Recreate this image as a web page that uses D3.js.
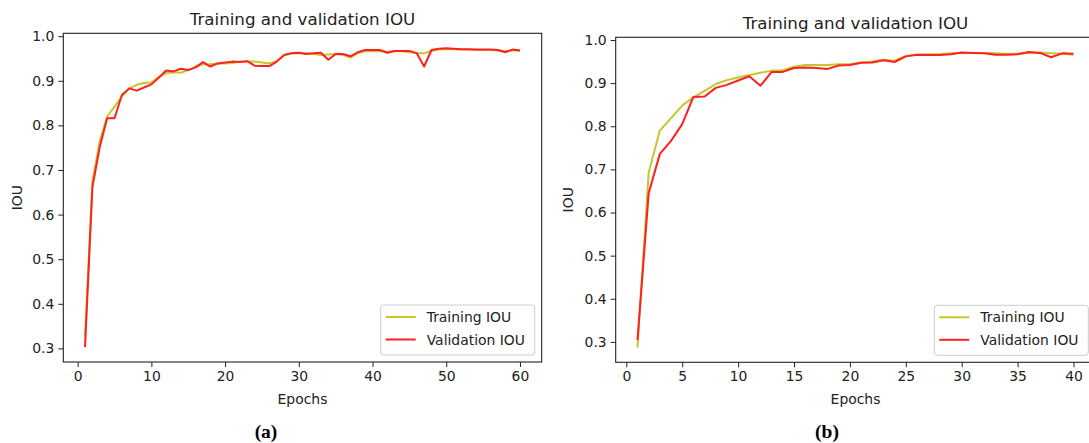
<!DOCTYPE html>
<html>
<head>
<meta charset="utf-8">
<script src="https://cdn.jsdelivr.net/npm/d3@7"></script>
<style>
  body { margin: 0; background: #fff; }
  text { font-family: "DejaVu Sans", sans-serif; fill: #222; }
  .caption { font-family: "Liberation Serif", serif; font-weight: bold; fill: #000; }
</style>
</head>
<body>
<div id="chart"></div>
<script>
// Data (epoch = index + 1)
var trainA = [0.326, 0.675, 0.765, 0.820, 0.842, 0.865, 0.883, 0.891, 0.895, 0.896,
  0.909, 0.917, 0.919, 0.918, 0.924, 0.932, 0.937, 0.937, 0.939, 0.939,
  0.940, 0.943, 0.943, 0.943, 0.941, 0.939, 0.944, 0.957, 0.961, 0.962,
  0.962, 0.960, 0.958, 0.959, 0.960, 0.958, 0.952, 0.962, 0.966, 0.967,
  0.966, 0.965, 0.966, 0.966, 0.964, 0.962, 0.962, 0.967, 0.970, 0.971,
  0.971, 0.970, 0.970, 0.969, 0.969, 0.969, 0.968, 0.967, 0.968, 0.968];
var valA = [0.303, 0.662, 0.752, 0.816, 0.816, 0.868, 0.883, 0.878, 0.885, 0.892,
  0.907, 0.923, 0.921, 0.927, 0.924, 0.930, 0.942, 0.932, 0.939, 0.941,
  0.943, 0.942, 0.944, 0.934, 0.933, 0.933, 0.943, 0.958, 0.962, 0.963,
  0.960, 0.962, 0.963, 0.947, 0.960, 0.960, 0.955, 0.964, 0.969, 0.969,
  0.969, 0.963, 0.967, 0.967, 0.967, 0.962, 0.932, 0.969, 0.972, 0.973,
  0.972, 0.971, 0.971, 0.970, 0.970, 0.970, 0.969, 0.964, 0.970, 0.968];
var trainB = [0.287, 0.693, 0.790, 0.819, 0.848, 0.867, 0.882, 0.898, 0.907, 0.913,
  0.919, 0.924, 0.929, 0.930, 0.938, 0.942, 0.942, 0.942, 0.944, 0.944,
  0.948, 0.950, 0.954, 0.952, 0.963, 0.966, 0.967, 0.967, 0.969, 0.970,
  0.970, 0.970, 0.969, 0.968, 0.968, 0.970, 0.971, 0.969, 0.968, 0.966];
var valB = [0.304, 0.645, 0.736, 0.766, 0.805, 0.868, 0.869, 0.889, 0.896, 0.906,
  0.916, 0.894, 0.926, 0.926, 0.935, 0.936, 0.935, 0.933, 0.941, 0.942,
  0.947, 0.948, 0.953, 0.949, 0.962, 0.966, 0.965, 0.965, 0.967, 0.971,
  0.970, 0.969, 0.966, 0.966, 0.967, 0.972, 0.970, 0.960, 0.969, 0.968];

var xTicksA = [0, 10, 20, 30, 40, 50, 60];
var xTicksB = [0, 5, 10, 15, 20, 25, 30, 35, 40];
var yTicks = [0.3, 0.4, 0.5, 0.6, 0.7, 0.8, 0.9, 1.0];
var seriesNames = ["Training IOU", "Validation IOU"];
var seriesColors = ["#c6c62a", "#ff2020"];

var svgWidth = 1089;
var svgHeight = 443;

var svg = d3.select("#chart")
  .append("svg")
  .attr("width", svgWidth)
  .attr("height", svgHeight);

// one matplotlib-like panel
function drawPanel(opt) {
  var train = opt.train, val = opt.val;
  var n = train.length;
  var all = train.concat(val);
  var yMin = d3.min(all), yMax = d3.max(all);
  var yPad = (yMax - yMin) * 0.05;
  var xPad = (n - 1) * 0.05;

  var x = d3.scaleLinear().domain([1 - xPad, n + xPad]).range([0, opt.width]);
  var y = d3.scaleLinear().domain([yMin - yPad, yMax + yPad]).range([opt.height, 0]);

  var g = svg.append("g")
    .attr("transform", `translate(${opt.left}, ${opt.top})`);

  // axes
  var bottomAxis = d3.axisBottom(x).tickValues(opt.xTicks).tickSize(5).tickPadding(4)
    .tickFormat(d3.format("d"));
  var leftAxis = d3.axisLeft(y).tickValues(yTicks).tickSize(5).tickPadding(4)
    .tickFormat(d3.format(".1f"));

  var xa = g.append("g")
    .attr("transform", `translate(0, ${opt.height})`)
    .call(bottomAxis);
  var ya = g.append("g").call(leftAxis);

  [xa, ya].forEach(function(a) {
    a.select(".domain").remove();
    a.selectAll("line").attr("stroke", "#222").attr("stroke-width", 1);
    a.selectAll("text").style("font-size", "13.9px").attr("fill", "#222");
  });

  // lines
  var line = d3.line()
    .x((d, i) => x(i + 1))
    .y(d => y(d));

  [train, val].forEach(function(s, k) {
    g.append("path")
      .datum(s)
      .attr("fill", "none")
      .attr("stroke", seriesColors[k])
      .attr("stroke-width", 2)
      .attr("stroke-linejoin", "round")
      .attr("d", line);
  });

  // frame
  g.append("rect")
    .attr("x", 0).attr("y", 0)
    .attr("width", opt.width).attr("height", opt.height)
    .attr("fill", "none")
    .attr("stroke", "#222")
    .attr("stroke-width", 1.1);

  // title
  g.append("text")
    .attr("x", opt.width / 2)
    .attr("y", -8.5)
    .attr("text-anchor", "middle")
    .style("font-size", "16.7px")
    .text("Training and validation IOU");

  // axis labels
  g.append("text")
    .attr("x", opt.width / 2)
    .attr("y", opt.height + 42)
    .attr("text-anchor", "middle")
    .style("font-size", "13.9px")
    .text("Epochs");

  g.append("text")
    .attr("transform", "rotate(-90)")
    .attr("x", -opt.height / 2)
    .attr("y", opt.yLabelX - opt.left)
    .attr("text-anchor", "middle")
    .style("font-size", "13.9px")
    .text("IOU");

  // legend, lower right
  var lw = 154, lh = 50;
  var legend = g.append("g")
    .attr("transform", `translate(${opt.width - 7 - lw}, ${opt.height - 7 - lh})`);
  legend.append("rect")
    .attr("width", lw).attr("height", lh)
    .attr("rx", 3)
    .attr("fill", "white").attr("fill-opacity", 0.8)
    .attr("stroke", "#cccccc");
  seriesNames.forEach(function(name, k) {
    var ly = 12 + k * 22.5;
    legend.append("line")
      .attr("x1", 5).attr("x2", 35)
      .attr("y1", ly).attr("y2", ly)
      .attr("stroke", seriesColors[k])
      .attr("stroke-width", 2);
    legend.append("text")
      .attr("x", 46).attr("y", ly + 5)
      .style("font-size", "13.9px")
      .text(name);
  });

  // caption
  svg.append("text")
    .attr("class", "caption")
    .attr("x", opt.captionX)
    .attr("y", 438)
    .attr("text-anchor", "middle")
    .style("font-size", "19.5px")
    .text(opt.caption);
}

drawPanel({ train: trainA, val: valA, xTicks: xTicksA, left: 63.3, top: 33.3,
  width: 478.4, height: 328.7, yLabelX: 22, caption: "(a)", captionX: 266 });
drawPanel({ train: trainB, val: valB, xTicks: xTicksB, left: 615.7, top: 37.3,
  width: 479.6, height: 325, yLabelX: 573, caption: "(b)", captionX: 827 });
</script>
</body>
</html>
